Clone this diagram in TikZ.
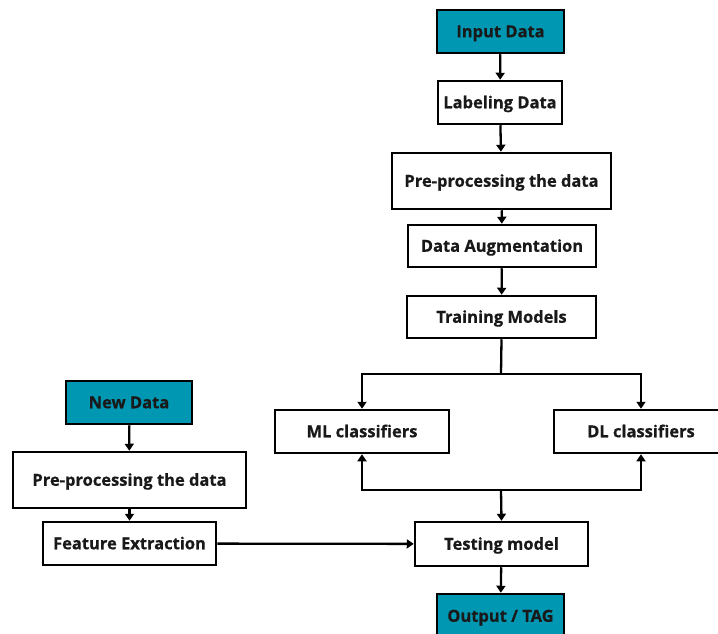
\documentclass[tikz,border=0pt]{standalone}
\usepackage{fontspec}
\setmainfont{Open Sans}[UprightFont={* Bold},UprightFeatures={FakeBold=0.6}]
\usetikzlibrary{arrows.meta}
\definecolor{teal1}{RGB}{0,151,178}
\tikzset{
  box/.style={draw=black, line width=2.5pt, fill=white, inner sep=0pt, text height=11.5pt, text depth=0pt, font=\fontsize{16.5}{19}\selectfont, text=black!90},
  tbox/.style={box, fill=teal1},
  conn/.style={line width=2.3pt, -{Triangle[length=7pt,width=9pt]}},
  plain/.style={line width=2.3pt}
}
\begin{document}
\begin{tikzpicture}[x=1pt,y=-1pt]
\useasboundingbox (0,0) rectangle (718,634);
\node[tbox, minimum width=127pt, minimum height=43pt] (in) at (500.5,31.5) {Input Data};
\node[box, minimum width=124pt, minimum height=43pt] (lab) at (500,102.5) {Labeling Data};
\node[box, minimum width=219pt, minimum height=56pt] (pre) at (501.5,181) {Pre-processing the data};
\node[box, minimum width=188pt, minimum height=42pt] (aug) at (502,246) {Data Augmentation};
\node[box, minimum width=189pt, minimum height=42pt] (tr) at (501.5,317) {Training Models};
\node[box, minimum width=174pt, minimum height=43pt] (ml) at (362,431.5) {ML classifiers};
\node[box, minimum width=174pt, minimum height=43pt] (dl) at (641,431.5) {DL classifiers};
\node[box, minimum width=173pt, minimum height=44pt] (test) at (501.5,544) {Testing model};
\node[tbox, minimum width=127pt, minimum height=44pt] (out) at (500.5,616) {Output / TAG};
\node[tbox, minimum width=126pt, minimum height=43pt] (new) at (129,402.5) {New Data};
\node[box, minimum width=233pt, minimum height=56pt] (pre2) at (129.5,480) {Pre-processing the data};
\node[box, minimum width=173pt, minimum height=43pt] (fe) at (129.5,543.5) {Feature Extraction};

\coordinate (split) at (501,374);
\coordinate (join) at (501,490);

\draw[conn] (in) -- (lab);
\draw[conn] (lab) -- (pre);
\draw[conn] (pre) -- (aug);
\draw[conn] (aug) -- (tr);
\draw[plain] (tr.south) -- (split);
\draw[conn] (split) -| (ml.north);
\draw[conn] (split) -| (dl.north);
\draw[conn] (join) -| (ml.south);
\draw[conn] (join) -| (dl.south);
\draw[conn] (join) -- (test.north);
\draw[conn] (test) -- (out);
\draw[conn] (new) -- (pre2);
\draw[conn] (pre2) -- (fe);
\draw[conn] (fe) -- (test);
\end{tikzpicture}
\end{document}
